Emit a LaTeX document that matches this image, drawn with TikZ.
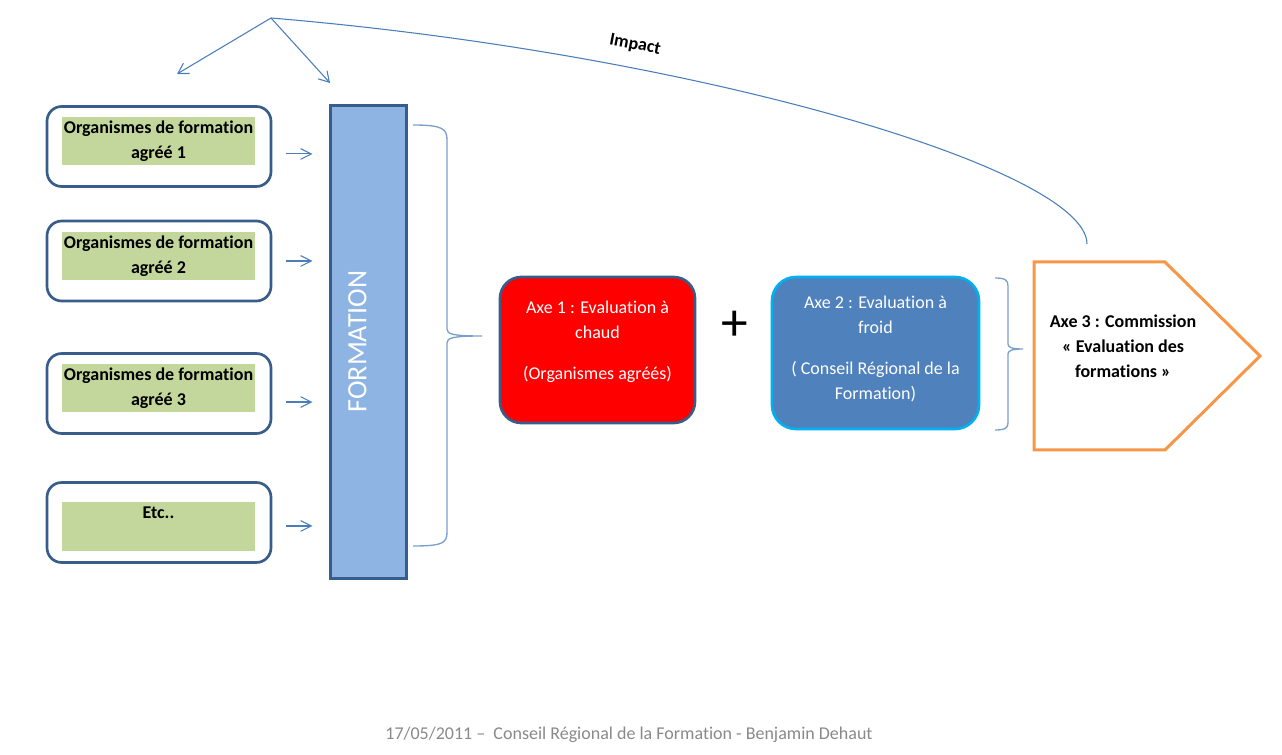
\documentclass[tikz,border=0pt]{standalone}
\usepackage{fontspec}
\setmainfont{Carlito}[Ligatures=NoCommon]
\usetikzlibrary{arrows.meta}

\definecolor{linkblue}{HTML}{4A7EBB}
\definecolor{boxline}{HTML}{385D8A}
\definecolor{greenfill}{HTML}{C3D69B}
\definecolor{barfill}{HTML}{8EB4E3}
\definecolor{axered}{HTML}{FF0000}
\definecolor{axeblue}{HTML}{4F81BD}
\definecolor{cyanline}{HTML}{00B0F0}
\definecolor{axeorange}{HTML}{F79646}
\definecolor{footgray}{HTML}{898989}
\definecolor{bracecol}{HTML}{7BA0CD}

\newcommand{\boxfont}{\fontsize{13.5}{18.75}\selectfont}

\tikzset{
  orgbox/.style={draw=boxline, line width=2pt, rounded corners=11pt, fill=white,
    minimum width=168pt, minimum height=60pt},
  greenbox/.style={fill=greenfill, minimum width=144.75pt, minimum height=36pt,
    inner sep=0pt, align=center, font=\bfseries\boxfont},
  axebox/.style={line width=2pt, align=center, text=white, font=\boxfont},
  smallflow/.style={linkblue, line width=0.8pt, shorten <=10.5pt, shorten >=12pt,
    -{Straight Barb[length=8pt,width=8pt]}},
  topflow/.style={linkblue, line width=0.8pt, -{Straight Barb[length=7.5pt,width=9pt]}},
  bracepath/.style={bracecol, line width=1pt}
}

\begin{document}
\begin{tikzpicture}[x=0.75pt, y=-0.75pt]
        \useasboundingbox (0,0) rectangle (1282,755);

        % Organismes
        \node[orgbox] (org1) at (159,146.5) {};
        \node[orgbox] (org2) at (159,261) {};
        \node[orgbox] (org3) at (159,393.5) {};
        \node[orgbox] (org4) at (159,522.5) {};
        \node[greenbox] (green1) at (158.5,141.5) {Organismes de formation\\agréé 1};
        \node[greenbox] (green2) at (158.5,256) {Organismes de formation\\agréé 2};
        \node[greenbox] (green3) at (158.5,388.5) {Organismes de formation\\agréé 3};
        \node[greenbox] (green4) at (158.5,526.5) {Etc..\\\phantom{agréé 4}};

        % Formation bar
        \node[draw=boxline, fill=barfill, line width=2.25pt, minimum width=57pt,
          minimum height=354pt] (formation) at (368,342) {};
        \node[rotate=90, text=white, font=\fontsize{21}{21}\selectfont] (formationlabel)
          at (357.5,341.5) {FORMATION};

        % Arrows to the bar
        \draw[smallflow] ([yshift=-5.6pt]org1.east) -- ([yshift=-5.6pt]org1.east -| formation.west);
        \draw[smallflow] (org2.east) -- (org2.east -| formation.west);
        \draw[smallflow] ([yshift=-6.4pt]org3.east) -- ([yshift=-6.4pt]org3.east -| formation.west);
        \draw[smallflow] ([yshift=-2.6pt]org4.east) -- ([yshift=-2.6pt]org4.east -| formation.west);

        % Brace after the bar
        \draw[bracepath] (413,125) .. controls (443,125) and (447,129) .. (447,140)
          -- (447,329) .. controls (447,334) and (452,336) .. (482,336)
          .. controls (452,336) and (447,338) .. (447,343)
          -- (447,532) .. controls (447,543) and (443,546) .. (413,546);

        % Axes
        \node[axebox, fill=axered, draw=boxline, rounded corners=16pt, text depth=14pt,
          minimum width=146.25pt, minimum height=109.5pt] (axe1) at (597.5,350)
          {Axe 1 : Evaluation à\\chaud\\[12pt](Organismes agréés)};
        \node[font=\fontsize{40}{40}\selectfont] (plus) at (735,326) {+};
        \node[axebox, fill=axeblue, draw=cyanline, rounded corners=18pt, text depth=8.6pt,
          minimum width=155.25pt, minimum height=114pt] (axe2) at (875.5,353)
          {Axe 2 : Evaluation à\\froid\\[12pt]( Conseil Régional de la\\Formation)};

        % Brace after axe 2
        \draw[bracepath] (995,278) .. controls (1005,278) and (1008,280) .. (1008,286)
          -- (1008,344) .. controls (1008,347) and (1011,349) .. (1023,349)
          .. controls (1011,349) and (1008,351) .. (1008,354)
          -- (1008,423) .. controls (1008,428) and (1005,430) .. (995,430);

        % Axe 3 arrow shape
        \draw[axeorange, line width=2.25pt, fill=white] (1034,262) -- (1165,262)
          -- (1260,356) -- (1165,450) -- (1034,450) -- cycle;
        \node[align=center, font=\bfseries\boxfont] (axe3) at (1123,346)
          {Axe 3 : Commission\\« Evaluation des\\formations »};

        % Impact
        \coordinate (impact) at (271,18);
        \coordinate (axe3top) at (1087,244);
        \coordinate (toorg) at (177,74);
        \coordinate (toform) at (330,83);
        \draw[linkblue, line width=0.8pt] (axe3top) .. controls (1087,170) and (700,54) .. (impact);
        \draw[topflow] (impact) -- (toorg);
        \draw[topflow] (impact) -- (toform);
        \node[font=\bfseries\boxfont, rotate=-11] (impactlabel) at (635,45) {Impact};

        % Footer
        \node[text=footgray, font=\boxfont] (footer) at (629,735)
          {17/05/2011 –~ Conseil Régional de la Formation - Benjamin Dehaut};
    \end{tikzpicture}
\end{document}
